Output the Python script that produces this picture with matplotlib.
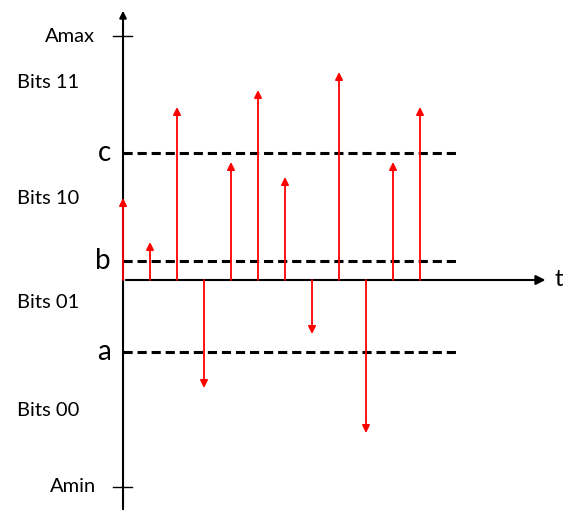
import matplotlib.pyplot as plt

# sample amplitudes (arbitrary units, 1 unit ~ 10 px)
samples = [8.2, 3.8, 17.3, -10.8, 11.8, 19.0, 10.3, -5.4, 20.8, -15.3, 11.8, 17.3]
thresholds = {'a': -7.2, 'b': 1.9, 'c': 12.7}
amax, amin = 24.4, -20.7
region_names = ['Bits 11', 'Bits 10', 'Bits 01', 'Bits 00']
region_y = [19.7, 8.1, -2.2, -13.1]

plt.rcParams['font.family'] = ['Lato', 'DejaVu Sans']

fig = plt.figure(figsize=(5.63, 5.12), dpi=100)
ax = fig.add_axes([0, 0, 1, 1])
ax.set_xlim(-4.556, 16.296)
ax.set_ylim(-23.2, 28)
ax.axis('off')

# axes with arrows
ax.annotate('', xy=(0, 27.2), xytext=(0, -23.2),
            arrowprops=dict(arrowstyle='-|>', color='black', lw=1.5, mutation_scale=10))
ax.annotate('', xy=(15.75, 0), xytext=(0, 0),
            arrowprops=dict(arrowstyle='-|>', color='black', lw=1.5, mutation_scale=14))
ax.text(15.98, 0, 't', fontsize=17, va='center', ha='left')

# Amax / Amin ticks
for v, lab, xc in [(amax, 'Amax', -1.96), (amin, 'Amin', -1.85)]:
    ax.plot([-0.37, 0.33], [v, v], color='black', lw=1)
    ax.text(xc, v, lab, fontsize=14.5, ha='center', va='center')

# thresholds
for lab, v in thresholds.items():
    ax.plot([0, 12.37], [v, v], color='black', lw=2.2, ls=(0, (3, 1.6)))
    ax.text(-0.45, v, lab, fontsize=20, ha='right', va='center')

for lab, v in zip(region_names, region_y):
    ax.text(-2.78, v, lab, fontsize=14.5, ha='center', va='center')

# sample arrows
for i, s in enumerate(samples):
    ax.annotate('', xy=(i, s), xytext=(i, 0),
                arrowprops=dict(arrowstyle='-|>', color='red', lw=1.3,
                                mutation_scale=11, shrinkA=0, shrinkB=0))

fig.savefig('out.png', dpi=100)
